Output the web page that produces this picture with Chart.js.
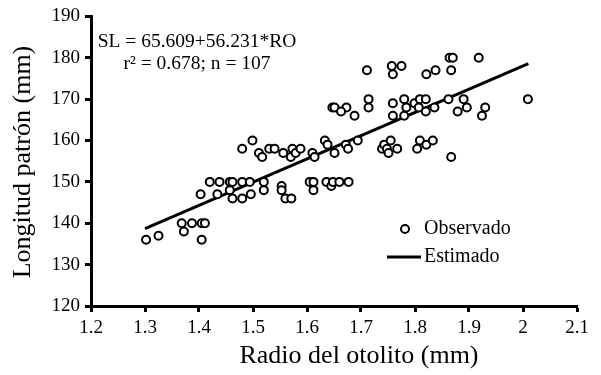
<!DOCTYPE html>
<html>
<head>
<meta charset="utf-8">
<script src="https://cdn.jsdelivr.net/npm/chart.js@4.4.1/dist/chart.umd.min.js"></script>
<style>
html,body{margin:0;padding:0;background:#fff;}
#wrap{width:601px;height:375px;position:relative;}
</style>
</head>
<body>
<div id="wrap"><canvas id="c" width="601" height="375"></canvas></div>
<script>
const xTicks = [1.2, 1.3, 1.4, 1.5, 1.6, 1.7, 1.8, 1.9, 2.0, 2.1];
const yTicks = [120, 130, 140, 150, 160, 170, 180, 190];

const observedRO = [
  1.302, 1.325, 1.368, 1.387, 1.372, 1.405, 1.411, 1.405, 1.403, 1.420,
  1.438, 1.434, 1.457, 1.462, 1.457, 1.462, 1.480, 1.494, 1.480, 1.496,
  1.520, 1.520, 1.553, 1.553, 1.560, 1.571, 1.605, 1.612, 1.612, 1.636,
  1.645, 1.648, 1.660, 1.677,
  1.480, 1.499, 1.511, 1.517, 1.530, 1.540, 1.556, 1.570, 1.573, 1.579,
  1.588, 1.610, 1.614, 1.633, 1.638, 1.651, 1.672, 1.676, 1.694, 1.739,
  1.743, 1.748, 1.751, 1.755, 1.767, 1.804, 1.809, 1.821, 1.833, 1.867,
  1.647, 1.651, 1.673, 1.663, 1.688, 1.714, 1.714, 1.759, 1.759, 1.780,
  1.784, 1.780, 1.799, 1.809, 1.820, 1.807, 1.820, 1.836, 1.862, 1.879,
  1.890, 1.896, 1.930, 1.924, 2.009,
  1.711, 1.757, 1.775, 1.759, 1.821, 1.838, 1.864, 1.870, 1.918, 1.867
];
const observedSL = [
  136, 137, 140, 140, 138, 140, 140, 136, 147, 150,
  150, 147, 150, 150, 148, 146, 150, 150, 146, 147,
  150, 148, 149, 148, 146, 146, 150, 150, 148, 150,
  149, 150, 150, 150,
  158, 160, 157, 156, 158, 158, 157, 156, 158, 157,
  158, 157, 156, 160, 159, 157, 159, 158, 160, 158,
  159, 158, 157, 160, 158, 158, 160, 159, 160, 156,
  168, 168, 168, 167, 166, 170, 168, 169, 166, 170,
  168, 166, 169, 170, 170, 168, 167, 168, 170, 167,
  170, 168, 168, 166, 170,
  177, 178, 178, 176, 176, 177, 180, 180, 180, 177
];
const fitRO = [1.30, 2.01];
const fitSL = [138.7, 178.6];

const equationLines = ["SL = 65.609+56.231*RO", "r² = 0.678; n = 107"];
const xTitle = "Radio del otolito (mm)";
const yTitle = "Longitud patrón (mm)";
const legendLabels = ["Observado", "Estimado"];

const SERIF = "'Liberation Serif','Times New Roman',serif";

const bgPlugin = {
  id: 'bg',
  beforeDraw(chart) {
    const ctx = chart.ctx;
    ctx.save();
    ctx.fillStyle = '#fff';
    ctx.fillRect(0, 0, chart.width, chart.height);
    ctx.restore();
  }
};

const textPlugin = {
  id: 'texts',
  afterDraw(chart) {
    const ctx = chart.ctx;
    const a = chart.chartArea;
    ctx.save();
    ctx.fillStyle = '#000';
    ctx.strokeStyle = '#000';
    // equation
    ctx.font = '19.5px ' + SERIF;
    ctx.textAlign = 'center';
    ctx.textBaseline = 'middle';
    ctx.fillText(equationLines[0], 197, 42);
    ctx.fillText(equationLines[1], 197, 64);
    // x title
    ctx.font = '26px ' + SERIF;
    ctx.textAlign = 'center';
    ctx.fillText(xTitle, 359, 356);
    // y title
    ctx.save();
    ctx.translate(23, 162);
    ctx.rotate(-Math.PI / 2);
    ctx.fillText(yTitle, 0, 0);
    ctx.restore();
    // legend
    ctx.font = '20px ' + SERIF;
    ctx.textAlign = 'left';
    ctx.fillText(legendLabels[0], 424, 229);
    ctx.fillText(legendLabels[1], 424, 257);
    ctx.lineWidth = 2;
    ctx.fillStyle = '#fff';
    ctx.beginPath();
    ctx.arc(405, 229, 4, 0, Math.PI * 2);
    ctx.fill();
    ctx.stroke();
    ctx.lineWidth = 3;
    ctx.beginPath();
    ctx.moveTo(387, 257);
    ctx.lineTo(421, 257);
    ctx.stroke();
    ctx.restore();
  }
};

const observed = observedRO.map((x, i) => ({x: x, y: observedSL[i]}));
const fitted = fitRO.map((x, i) => ({x: x, y: fitSL[i]}));

new Chart(document.getElementById('c'), {
  type: 'scatter',
  data: {
    datasets: [
      {
        label: legendLabels[1],
        data: fitted,
        showLine: true,
        borderColor: '#000',
        borderWidth: 3,
        pointRadius: 0,
        fill: false,
        order: 1
      },
      {
        label: legendLabels[0],
        data: observed,
        pointRadius: 4,
        pointBorderWidth: 2,
        pointBorderColor: '#000',
        pointBackgroundColor: '#fff',
        order: 0
      }
    ]
  },
  options: {
    responsive: false,
    animation: false,
    devicePixelRatio: 1,
    layout: {padding: {left: 0, top: 14, right: 24, bottom: 0}},
    plugins: {legend: {display: false}, tooltip: {enabled: false}},
    scales: {
      x: {
        type: 'linear',
        min: 1.2, max: 2.1,
        afterBuildTicks(scale) { scale.ticks = xTicks.map(v => ({value: v})); },
        afterFit(scale) { scale.height = 69; },
        ticks: {
          color: '#000',
          font: {family: SERIF, size: 19},
          padding: 5,
          maxRotation: 0,
          autoSkip: false,
          callback: v => String(Number(v.toFixed(1)))
        },
        grid: {drawOnChartArea: false, drawTicks: true, tickLength: 6, tickWidth: 3, tickColor: '#000', color: '#000'},
        border: {display: true, color: '#000', width: 3}
      },
      y: {
        type: 'linear',
        min: 120, max: 190,
        afterBuildTicks(scale) { scale.ticks = yTicks.map(v => ({value: v})); },
        afterFit(scale) { scale.width = 91; },
        ticks: {
          color: '#000',
          font: {family: SERIF, size: 19},
          padding: 5,
          autoSkip: false,
          callback: v => String(v)
        },
        grid: {drawOnChartArea: false, drawTicks: true, tickLength: 6, tickWidth: 3, tickColor: '#000', color: '#000'},
        border: {display: true, color: '#000', width: 3}
      }
    }
  },
  plugins: [bgPlugin, textPlugin]
});
</script>
</body>
</html>
